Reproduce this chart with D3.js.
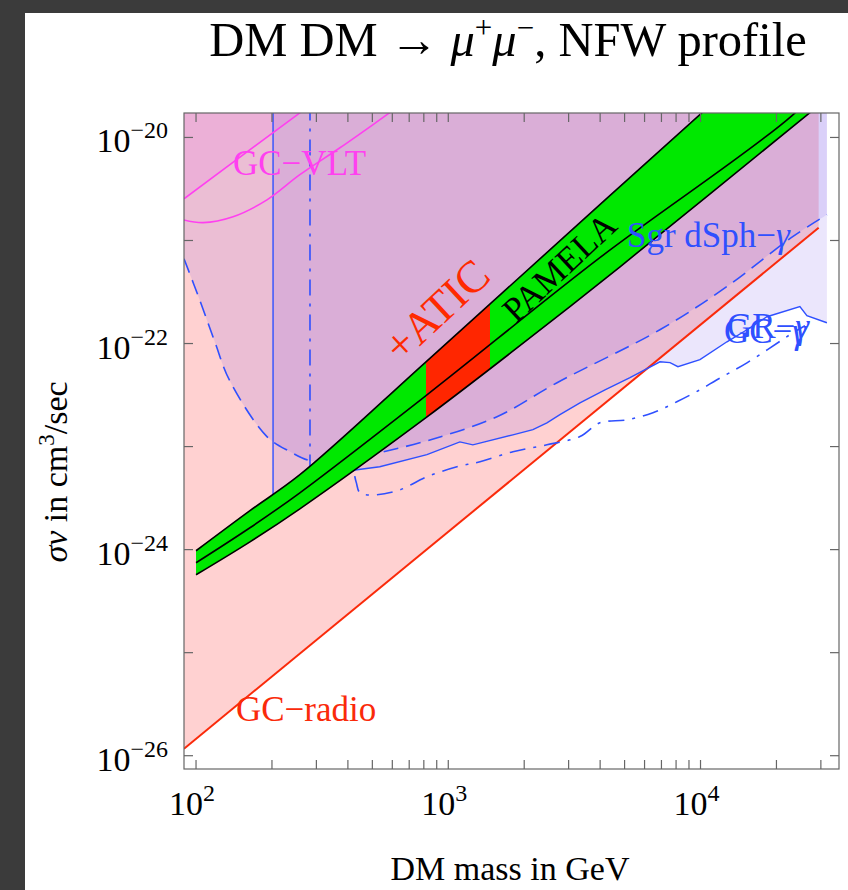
<!DOCTYPE html>
<html><head><meta charset="utf-8">
<script src="https://cdn.jsdelivr.net/npm/d3@7"></script>
<style>body{margin:0;background:#fff}</style>
</head><body>
<svg id="c" width="848" height="890"></svg>
<script>
// ---------------- data ----------------
const massTicks = [100,200,300,400,500,600,700,800,900,1000,2000,3000,4000,5000,6000,7000,8000,9000,10000,20000,30000];
const massLabels = [100,1000,10000];
const svDecades = [-26,-25,-24,-23,-22,-21,-20];
const svLabelDecades = [-26,-24,-22,-20];

// GC-radio bound (red line)
const radioMass = [89.6, 29400];
const radioSv   = [1.17e-26, 1.33e-21];

// Sgr dSph - gamma (dashed blue)
const sgrMass = [89.6,104,119,136,191,236,283,373,490,846,1560,2700,6900,12700,23200,31700];
const sgrSv   = [6.65e-22,2.55e-22,1.02e-22,4.36e-23,1.25e-23,8.91e-24,7.30e-24,7.30e-24,8.34e-24,1.16e-23,1.95e-23,4.17e-23,1.36e-22,3.56e-22,1.09e-21,1.78e-21];

// GC - gamma (solid blue, with low-mass wall)
const gcMass = [202,202,258,340,427,535,823,1112,1252,1804,2166,2461,2771,3327,4181,5254,6905,7570,8136,9950,12730,15280,18340,24770,26410,31700];
const gcSv   = [1e-19,2.71e-24,3.39e-24,4.53e-24,5.93e-24,6.37e-24,8.34e-24,1.11e-23,1.04e-23,1.30e-23,1.46e-23,1.70e-23,2.04e-23,2.66e-23,3.56e-23,4.66e-23,6.65e-23,6.52e-23,5.96e-23,6.97e-23,1.04e-22,1.36e-22,1.82e-22,2.28e-22,1.86e-22,1.59e-22];

// second gamma bound (dash-dot blue, with low-mass wall)
const gc2Mass = [283,283,372,415,431,447,522,644,823,1082,1336,1804,2461,3327,3990,5107,6477,8054,9950,11620,15280,23240,25940];
const gc2Sv   = [1e-19,5.32e-24,5.96e-24,5.96e-24,4.56e-24,3.56e-24,3.41e-24,3.81e-24,5.09e-24,6.37e-24,7.13e-24,8.91e-24,1.04e-23,1.25e-23,1.70e-23,1.82e-23,2.13e-23,2.72e-23,3.56e-23,4.45e-23,6.50e-23,1.27e-22,1.49e-22];

// GC-VLT (magenta)
const vltAMass = [89.6,258,310];
const vltASv   = [2.54e-21,1.73e-20,2.39e-20];
const vltBMass = [88.7,106.6,140.2,191.1,258,372,587,705];
const vltBSv   = [1.59e-21,1.49e-21,1.70e-21,2.48e-21,4.35e-21,7.94e-21,1.74e-20,2.38e-20];

// PAMELA band (upper edge, central line, lower edge)
const pamUpperMass = [100,163.6,258,816,3327,10400,17180];
const pamUpperSv   = [9.75e-25,2.39e-24,5.33e-24,6.65e-23,1.49e-21,1.84e-20,5.54e-20];
const pamMidMass   = [100,163.6,258,816,3990,23000,32600];
const pamMidSv     = [7.45e-25,1.63e-24,3.56e-24,3.12e-23,6.81e-22,1.62e-20,3.96e-20];
const pamLowerMass = [100,163.6,258,816,1923,4797,27150,42850];
const pamLowerSv   = [5.70e-25,1.19e-24,2.49e-24,1.91e-23,9.53e-23,5.56e-22,1.74e-20,4.23e-20];
const aticRange = [816,1463];

// ---------------- drawing ----------------
const W=848,H=890;
const L=184,R=839,T=113,B=769;
const FONT='"Liberation Serif","Times New Roman",serif';
const svg=d3.select('#c');
const x=d3.scaleLog().domain([89.6,35400]).range([L,R]);
const y=d3.scaleLog().domain([7.43e-27,1.727e-20]).range([B,T]);

svg.append('rect').attr('width',W).attr('height',H).attr('fill','#3b3b3b');
svg.append('rect').attr('x',25).attr('y',13).attr('width',W-25).attr('height',H-13).attr('fill','#fff');

const defs=svg.append('defs');
defs.append('clipPath').attr('id','plot').append('rect')
  .attr('x',L).attr('y',T).attr('width',R-L).attr('height',B-T);
defs.append('clipPath').attr('id','atic').append('rect')
  .attr('x',x(aticRange[0])).attr('y',0)
  .attr('width',x(aticRange[1])-x(aticRange[0])).attr('height',H);

const zip=(ms,vs)=>ms.map((m,i)=>[m,vs[i]]);
const lin=d3.line().x(d=>x(d[0])).y(d=>y(d[1]));
const smooth=d3.line().x(d=>x(d[0])).y(d=>y(d[1])).curve(d3.curveCatmullRom.alpha(0.5));
const TOPV=1e-19;
function above(pts,line){
  const f=pts[0][0], l=pts[pts.length-1][0];
  return line(pts)+'L'+x(l)+','+y(TOPV)+'L'+x(f)+','+y(TOPV)+'Z';
}

const radio=zip(radioMass,radioSv), sgr=zip(sgrMass,sgrSv), gc=zip(gcMass,gcSv),
      gc2=zip(gc2Mass,gc2Sv), vltA=zip(vltAMass,vltASv), vltB=zip(vltBMass,vltBSv),
      pu=zip(pamUpperMass,pamUpperSv), pm=zip(pamMidMass,pamMidSv), pl=zip(pamLowerMass,pamLowerSv);

const g=svg.append('g').attr('clip-path','url(#plot)');
// excluded regions
g.append('path').attr('d',above(radio,lin)).attr('fill','#ff0000').attr('fill-opacity',0.18);
g.append('path').attr('d',above(sgr,smooth)).attr('fill','rgb(120,90,235)').attr('fill-opacity',0.15);
g.append('path').attr('d',above(gc,lin)).attr('fill','rgb(120,90,235)').attr('fill-opacity',0.15);
g.append('path').attr('d',above(vltA,smooth)).attr('fill','#ff00ff').attr('fill-opacity',0.07);

const BLUE='#2f50ff';
g.append('path').attr('d',lin(radio)).attr('fill','none').attr('stroke','#fa2a0a').attr('stroke-width',2);
g.append('path').attr('d',smooth(sgr)).attr('fill','none').attr('stroke',BLUE).attr('stroke-width',1.6).attr('stroke-dasharray','15,8');
// dash-dot: straight wall + smooth remainder
g.append('path').attr('d',lin(gc2.slice(0,2))+smooth(gc2.slice(1)).replace(/^M/,'L'))
  .attr('fill','none').attr('stroke',BLUE).attr('stroke-width',1.6).attr('stroke-dasharray','16,8,3,8');
g.append('path').attr('d',lin(gc)).attr('fill','none').attr('stroke',BLUE).attr('stroke-width',1.4);
g.append('path').attr('d',smooth(vltA)).attr('fill','none').attr('stroke','#ff40f0').attr('stroke-width',1.6);
g.append('path').attr('d',smooth(vltB)).attr('fill','none').attr('stroke','#ff40f0').attr('stroke-width',1.6);

// PAMELA band
const bandPoly=smooth(pu)+smooth(pl.slice().reverse()).replace(/^M/,'L')+'Z';
g.append('path').attr('d',bandPoly).attr('fill','#00e800');
g.append('g').attr('clip-path','url(#atic)').append('path').attr('d',bandPoly).attr('fill','#ff2600');
[pu,pm,pl].forEach(p=>g.append('path').attr('d',smooth(p)).attr('fill','none').attr('stroke','#000').attr('stroke-width',1.6));

// in-plot labels
function label(px,py,col,size,rot){
  const t=svg.append('text').attr('x',px).attr('y',py).attr('fill',col)
    .attr('font-family',FONT).attr('font-size',size);
  if(rot) t.attr('transform',`rotate(${rot},${px},${py})`);
  return t;
}
label(233,175,'#ff40f0',35).text('GC\u2212VLT');
const sg=label(627,247,BLUE,35); sg.append('tspan').text('Sgr dSph\u2212'); sg.append('tspan').attr('font-style','italic').text('\u03b3');
const g1=label(724,343,BLUE,35); g1.append('tspan').text('GC\u2212'); g1.append('tspan').attr('font-style','italic').text('\u03b3');
const g2=label(727,338,BLUE,35); g2.append('tspan').text('GR\u2212'); g2.append('tspan').attr('font-style','italic').text('\u03b3');
label(401,364,'#ff2a00',45,-43).text('+ATIC');
label(516,324,'#000',35,-43).text('PAMELA');
label(236,721,'#fa2a0a',35).text('GC\u2212radio');

// frame + ticks
const AX='#666';
svg.append('rect').attr('x',L).attr('y',T).attr('width',R-L).attr('height',B-T)
  .attr('fill','none').attr('stroke',AX).attr('stroke-width',1.2);
const tk=svg.append('g').attr('stroke',AX).attr('stroke-width',1.2);
massTicks.forEach(m=>{
  const px=x(m);
  tk.append('line').attr('x1',px).attr('x2',px).attr('y1',B).attr('y2',B-9);
  tk.append('line').attr('x1',px).attr('x2',px).attr('y1',T).attr('y2',T+9);
});
svDecades.forEach(k=>{
  const py=y(Math.pow(10,k));
  tk.append('line').attr('x1',L).attr('x2',L+9).attr('y1',py).attr('y2',py);
  tk.append('line').attr('x1',R).attr('x2',R-9).attr('y1',py).attr('y2',py);
});

// tick labels
massLabels.forEach(m=>{
  const t=svg.append('text').attr('x',x(m)-4).attr('y',815).attr('text-anchor','middle')
    .attr('font-family',FONT).attr('font-size',34).attr('fill','#000');
  t.append('tspan').text('10');
  t.append('tspan').attr('dy',-14).attr('font-size',24).text(String(Math.round(Math.log10(m))));
});
svLabelDecades.forEach(k=>{
  const t=svg.append('text').attr('x',168).attr('y',y(Math.pow(10,k))+15).attr('text-anchor','end')
    .attr('font-family',FONT).attr('font-size',34).attr('fill','#000');
  t.append('tspan').text('10');
  t.append('tspan').attr('dy',-14).attr('font-size',24).text('\u2212'+Math.abs(k));
});

// axis titles
svg.append('text').attr('x',510).attr('y',880).attr('text-anchor','middle')
  .attr('font-family',FONT).attr('font-size',34).text('DM mass in GeV');
const yl=svg.append('text').attr('transform','translate(67,472) rotate(-90)').attr('text-anchor','middle')
  .attr('font-family',FONT).attr('font-size',34);
yl.append('tspan').attr('font-style','italic').text('\u03c3\u03bd');
yl.append('tspan').text(' in cm');
yl.append('tspan').attr('dy',-13).attr('font-size',23).text('3');
yl.append('tspan').attr('dy',13).text('/sec');

// title
const tt=svg.append('text').attr('x',508).attr('y',56).attr('text-anchor','middle')
  .attr('font-family',FONT).attr('font-size',48.5);
tt.append('tspan').text('DM DM \u2192 ');
tt.append('tspan').attr('font-style','italic').text('\u03bc');
tt.append('tspan').attr('dy',-18).attr('font-size',31).text('+');
tt.append('tspan').attr('dy',18).attr('font-style','italic').text('\u03bc');
tt.append('tspan').attr('dy',-18).attr('font-size',31).text('\u2212');
tt.append('tspan').attr('dy',18).text(', NFW profile');
</script></body></html>
